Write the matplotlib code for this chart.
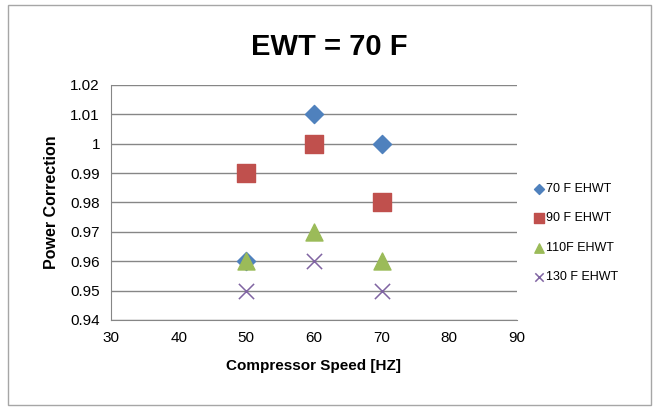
import matplotlib
matplotlib.use("Agg")
import matplotlib.pyplot as plt
from matplotlib.patches import Rectangle

plt.rcParams['font.family'] = ['Liberation Sans', 'DejaVu Sans']

# data
speed = [50, 60, 70]
ehwt_70 = [0.96, 1.01, 1.00]
ehwt_90 = [0.99, 1.00, 0.98]
ehwt_110 = [0.96, 0.97, 0.96]
ehwt_130 = [0.95, 0.96, 0.95]
labels = ["70 F EHWT", "90 F EHWT", "110F EHWT", "130 F EHWT"]

fig = plt.figure(figsize=(6.58, 4.07), dpi=100)
ax = fig.add_axes([0.1687, 0.2138, 0.617, 0.5774])

# outer chart border
fig.patches.append(Rectangle((0.012, 0.005), 0.978, 0.983, transform=fig.transFigure,
                             fill=False, edgecolor='#a6a6a6', linewidth=1))

ax.scatter(speed, ehwt_70, marker='D', s=85, color='#4f81bd', label=labels[0], zorder=3)
ax.scatter(speed, ehwt_90, marker='s', s=150, color='#c0504d', label=labels[1], zorder=3)
ax.scatter(speed, ehwt_110, marker='^', s=150, color='#9bbb59', label=labels[2], zorder=3)
ax.scatter(speed, ehwt_130, marker='x', s=120, color='#8064a2', linewidths=1.1, label=labels[3], zorder=3)

ax.set_xlim(30, 90)
ax.set_ylim(0.94, 1.02)
ax.set_xticks(range(30, 91, 10))
ax.set_yticks([0.94, 0.95, 0.96, 0.97, 0.98, 0.99, 1.00, 1.01, 1.02])
ax.set_yticklabels(['0.94', '0.95', '0.96', '0.97', '0.98', '0.99', '1', '1.01', '1.02'])
ax.tick_params(length=0, labelsize=11, pad=8)
ax.grid(axis='y', color='#868686', linewidth=1)
ax.set_axisbelow(True)
for s in ['top', 'right']:
    ax.spines[s].set_visible(False)
for s in ['left', 'bottom']:
    ax.spines[s].set_color('#868686')

ax.set_xlabel('Compressor Speed [HZ]', fontsize=11, fontweight='bold', labelpad=10)
ax.set_ylabel('Power Correction', fontsize=11.5, fontweight='bold', labelpad=8)
fig.text(0.5, 0.885, 'EWT = 70 F', ha='center', va='center', fontsize=21, fontweight='bold')

leg = ax.legend(loc='center left', bbox_to_anchor=(1.01, 0.37), frameon=False,
                fontsize=9, handletextpad=0.1, labelspacing=1.4, markerscale=0.55,
                handlelength=1.0)

fig.savefig('out.png', dpi=100)
